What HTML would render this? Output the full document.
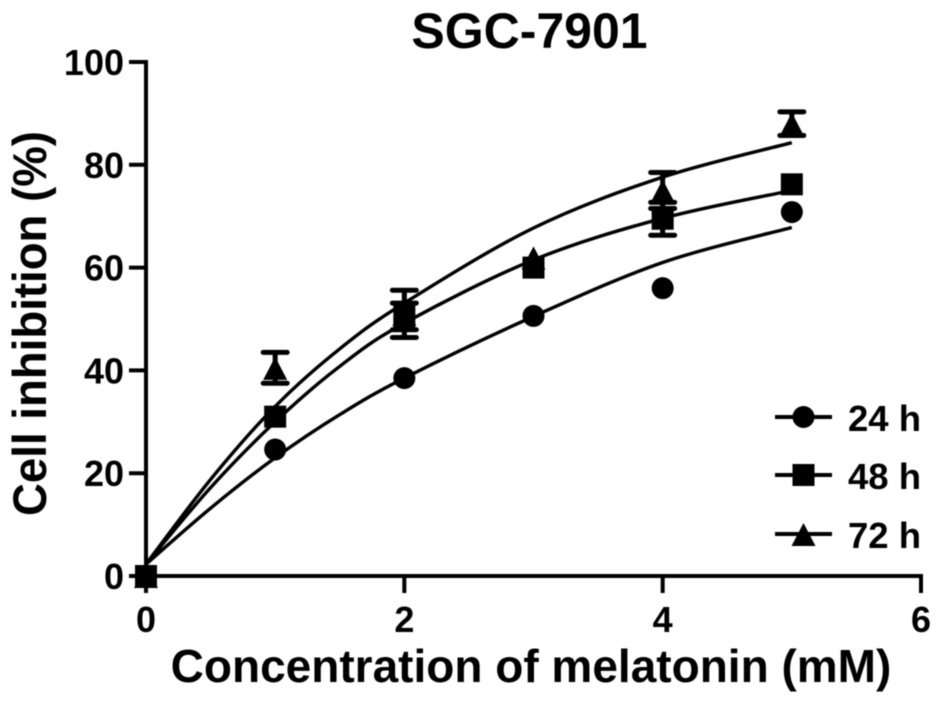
<!DOCTYPE html>
<html lang="en">
<head>
<meta charset="utf-8">
<title>SGC-7901</title>
<style>
html,body{margin:0;padding:0;background:#fff;}
svg{display:block;}
text{font-family:"Liberation Sans",sans-serif;font-weight:bold;fill:#000;}
</style>
</head>
<body>
<svg id="chart" width="945" height="702" viewBox="0 0 945 702" xmlns="http://www.w3.org/2000/svg">
  <defs><filter id="soft" x="-5%" y="-5%" width="110%" height="110%"><feGaussianBlur stdDeviation="0.6"/></filter></defs>
  <g id="root" filter="url(#soft)">
    <text x="529.5" y="48" font-size="50" text-anchor="middle">SGC-7901</text>
    <g id="axes"></g>
    <text x="531" y="682" font-size="46" text-anchor="middle">Concentration of melatonin (mM)</text>
    <text transform="translate(46,323.5) rotate(-90)" font-size="47" text-anchor="middle" textLength="385" lengthAdjust="spacingAndGlyphs">Cell inhibition (%)</text>
    <g id="series"></g>
    <g id="legend"></g>
  </g>
</svg>
<script>
const xTicks = [0, 2, 4, 6];
const yTicks = [0, 20, 40, 60, 80, 100];
const seriesNames = ['24 h', '48 h', '72 h'];
const seriesShapes = ['circle', 'square', 'triangle'];

const doses = [0, 1, 2, 3, 4, 5];
const means24 = [0, 24.6, 38.5, 50.6, 56, 70.8];
const means48 = [0, 31, 50.5, 60, 69.5, 76.2];
const means72 = [0, 40.5, 51, 62, 75, 88];
const errors24 = [0, 0, 0, 0, 0, 0];
const errors48 = [0, 0, 2.6, 0, 3.2, 0];
const errors72 = [0, 3, 4.6, 0, 3.5, 2.3];

const curveDoses = [0, 0.5, 1, 1.5, 2, 3, 4, 5];
const fit24 = [2.3, 13.2, 23, 31.4, 38.5, 50.5, 61, 67.8];
const fit48 = [2.3, 17.2, 30, 40.8, 49.2, 61.5, 69.6, 75];
const fit72 = [2.3, 18.8, 33, 44.2, 53.1, 67.7, 77.6, 84.3];

const allMeans = [means24, means48, means72];
const allErrors = [errors24, errors48, errors72];
const allFits = [fit24, fit48, fit72];

const xAxisMin = 0, xAxisMax = 6, yAxisMin = 0, yAxisMax = 100;
const plotLeft = 146, plotRight = 921, plotBottom = 576, plotTop = 62;
const NS = 'http://www.w3.org/2000/svg';
const X = v => plotLeft + (v - xAxisMin) / (xAxisMax - xAxisMin) * (plotRight - plotLeft);
const Y = v => plotBottom - (v - yAxisMin) / (yAxisMax - yAxisMin) * (plotBottom - plotTop);

function make(parent, tag, attrs, txt) {
  const el = document.createElementNS(NS, tag);
  for (const k in attrs) el.setAttribute(k, attrs[k]);
  if (txt !== undefined) el.textContent = txt;
  parent.appendChild(el);
  return el;
}

function drawMarker(parent, shape, cx, cy) {
  if (shape === 'circle') return make(parent, 'circle', {cx: cx, cy: cy, r: 11, fill: '#000'});
  if (shape === 'square') return make(parent, 'rect', {x: cx - 11, y: cy - 11, width: 22, height: 22, fill: '#000'});
  const d = 'M' + cx + ' ' + (cy - 11) + 'L' + (cx + 12) + ' ' + (cy + 12) + 'L' + (cx - 12) + ' ' + (cy + 12) + 'Z';
  return make(parent, 'path', {d: d, fill: '#000'});
}

function smoothPath(xs, ys) {
  const p = xs.map((x, i) => [X(x), Y(ys[i])]);
  let d = 'M' + p[0][0].toFixed(1) + ' ' + p[0][1].toFixed(1);
  for (let i = 0; i < p.length - 1; i++) {
    const a = p[Math.max(i - 1, 0)], b = p[i], c = p[i + 1], e = p[Math.min(i + 2, p.length - 1)];
    const c1 = [b[0] + (c[0] - a[0]) / 6, b[1] + (c[1] - a[1]) / 6];
    const c2 = [c[0] - (e[0] - b[0]) / 6, c[1] - (e[1] - b[1]) / 6];
    d += 'C' + c1[0].toFixed(1) + ' ' + c1[1].toFixed(1) + ' ' + c2[0].toFixed(1) + ' ' + c2[1].toFixed(1) + ' ' + c[0].toFixed(1) + ' ' + c[1].toFixed(1);
  }
  return d;
}

const axes = document.getElementById('axes');
const axisStyle = {stroke: '#000', 'stroke-width': 4, fill: 'none'};

const xAxisLine = make(axes, 'line', Object.assign({x1: plotLeft - 2, x2: plotRight + 2, y1: plotBottom, y2: plotBottom}, axisStyle));


const yAxisLine = make(axes, 'line', Object.assign({x1: plotLeft, x2: plotLeft, y1: plotTop - 2, y2: plotBottom + 2}, axisStyle));



xTicks.forEach(t => {
  const tick = make(axes, 'line', Object.assign({x1: X(t), x2: X(t), y1: plotBottom, y2: plotBottom + 17}, axisStyle));
  
  
  const label = make(axes, 'text', {x: X(t), y: 632, 'font-size': 36, 'text-anchor': 'middle'}, String(t));
  
  
});
yTicks.forEach(t => {
  const tick = make(axes, 'line', Object.assign({x1: plotLeft - 17, x2: plotLeft, y1: Y(t), y2: Y(t)}, axisStyle));
  
  
  const label = make(axes, 'text', {x: 124, y: Y(t) + 13, 'font-size': 36, 'text-anchor': 'end'}, String(t));
  
  
});

const seriesRoot = document.getElementById('series');
seriesShapes.forEach((shape, s) => {
  const group = make(seriesRoot, 'g', {});
  
  
  const curve = make(group, 'path', {d: smoothPath(curveDoses, allFits[s]), fill: 'none', stroke: '#000', 'stroke-width': 3.4});
  
  
  doses.forEach((dose, i) => {
    const m = allMeans[s][i], err = allErrors[s][i], cx = X(dose);
    if (err > 0) {
      const bar = make(group, 'path', {
        d: 'M' + cx + ' ' + Y(m - err) + 'V' + Y(m + err) +
           'M' + (cx - 12) + ' ' + Y(m + err) + 'H' + (cx + 12) +
           'M' + (cx - 12) + ' ' + Y(m - err) + 'H' + (cx + 12),
        fill: 'none', stroke: '#000', 'stroke-width': 5, 'stroke-linecap': 'round'
      });
      
      
    }
    const marker = drawMarker(group, shape, cx, Y(m));
    
    
  });
});

const legendRoot = document.getElementById('legend');
const legendRowY = [417, 475, 534];
seriesNames.forEach((name, s) => {
  const row = make(legendRoot, 'g', {});
  
  
  const sample = make(row, 'line', {x1: 775, x2: 832, y1: legendRowY[s], y2: legendRowY[s], stroke: '#000', 'stroke-width': 4});
  
  
  const mark = drawMarker(row, seriesShapes[s], 803.5, legendRowY[s]);
  
  
  const label = make(row, 'text', {x: 848, y: legendRowY[s] + 14, 'font-size': 36.5}, name);
  
  
});
</script>
</body>
</html>
